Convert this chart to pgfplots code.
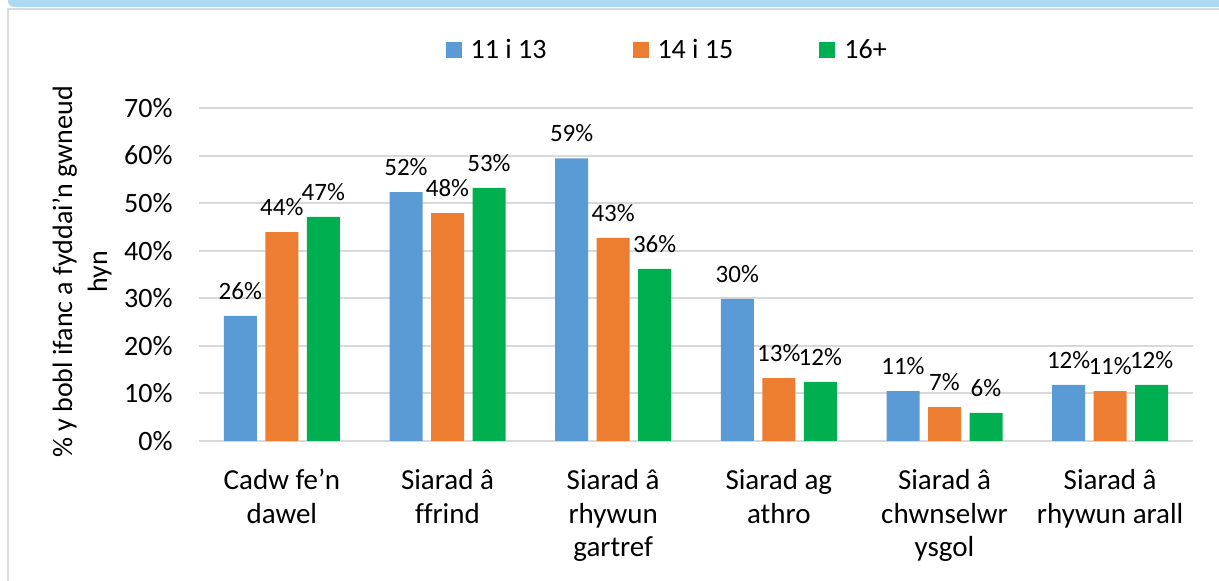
\documentclass[border=0pt]{standalone}
\usepackage{pgfplots}
\pgfplotsset{compat=1.18}
\usepackage{fontspec}
\setmainfont{Carlito}[Ligatures=NoCommon]
\definecolor{cblue}{HTML}{5B9BD5}
\definecolor{corange}{HTML}{ED7D31}
\definecolor{cgreen}{HTML}{00B050}
\definecolor{cgrid}{HTML}{D9D9D9}
\definecolor{strip}{HTML}{ADDAF1}
\begin{document}
\begin{tikzpicture}
\path[use as bounding box] (0pt,0pt) rectangle (609.5pt,290.5pt);
\fill[strip,rounded corners=3pt] (4pt,287pt) rectangle (615pt,296pt);
\draw[cgrid,line width=1pt] (4pt,-2pt) -- (4pt,286pt) -- (612pt,286pt);
\begin{axis}[
  at={(99.5pt,70pt)}, anchor=south west,
  scale only axis, width=497pt, height=166.5pt,
  xmin=-0.5, xmax=5.5, ymin=0, ymax=70,
  ybar, bar width=16.5pt,
  axis line style={draw=none},
  major tick length=0pt,
  ymajorgrids, grid style={cgrid,line width=1pt},
  ytick={0,10,20,30,40,50,60,70},
  yticklabels={0\%,10\%,20\%,30\%,40\%,50\%,60\%,70\%},
  xtick={0,1,2,3,4,5},
  xticklabels={{Cadw fe’n\\dawel},{Siarad â\\ffrind},{Siarad â\\rhywun\\gartref},{Siarad ag\\athro},{Siarad â\\chwnselwr\\ysgol},{Siarad â\\rhywun arall}},
  /pgf/number format/assume math mode=true,
  yticklabel style={font=\fontsize{14}{17}\selectfont, anchor=east, inner sep=0pt, xshift=-13pt},
  xticklabel style={font=\fontsize{14.5}{16.8}\selectfont, align=center, anchor=north, inner sep=0pt, yshift=-14pt},
  clip=false,
  point meta=explicit symbolic,
  nodes near coords={\pgfplotspointmeta\%},
  every node near coord/.append style={font=\fontsize{12.5}{15}\selectfont, anchor=south, inner sep=0pt, yshift=8pt, text=black},
  legend columns=3,
  legend style={draw=none, at={(0.472,1.174)}, anchor=center, font=\fontsize{14}{17}\selectfont,
    /tikz/every odd column/.append style={column sep=2.5pt},
    /tikz/every even column/.append style={column sep=41pt}},
  legend image code/.code={\fill[#1] (0pt,-4pt) rectangle (8pt,4pt);},
]
\addplot[fill=cblue, draw=none, bar shift=-20.75pt] coordinates {(0,26.3) [26] (1,52.3) [52] (2,59.4) [59] (3,29.9) [30] (4,10.5) [11] (5,11.8) [12]};
\addplot[fill=corange, draw=none, bar shift=0pt] coordinates {(0,43.9) [44] (1,47.9) [48] (2,42.7) [43] (3,13.2) [13] (4,7.1) [7] (5,10.5) [11]};
\addplot[fill=cgreen, draw=none, bar shift=20.75pt] coordinates {(0,47.1) [47] (1,53.2) [53] (2,36.2) [36] (3,12.4) [12] (4,5.9) [6] (5,11.8) [12]};
\legend{11 i 13, 14 i 15, 16+}
\end{axis}
\node[rotate=90, align=center, font=\fontsize{14}{17.5}\selectfont] at (41pt,154.5pt) {\% y bobl ifanc a fyddai’n gwneud\\hyn};
\end{tikzpicture}
\end{document}
